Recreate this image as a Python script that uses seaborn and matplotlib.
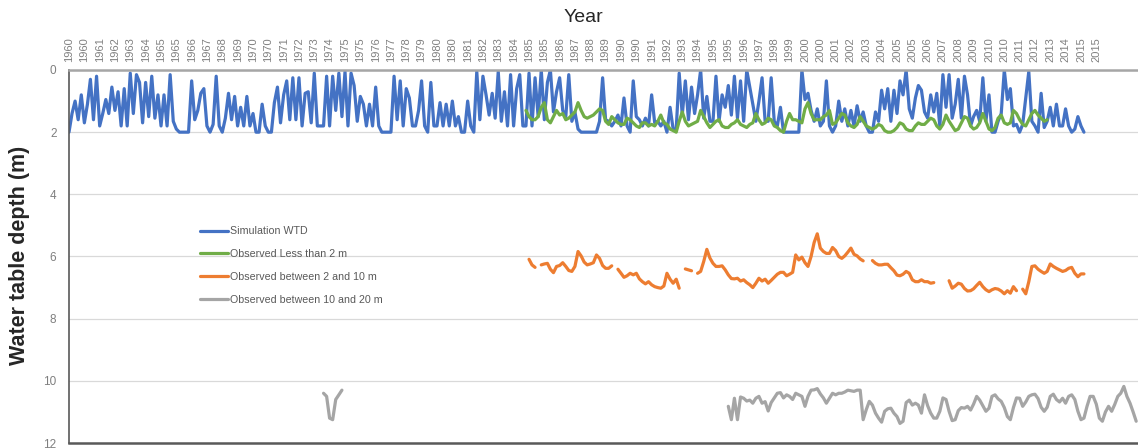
import matplotlib
matplotlib.use('Agg')
import matplotlib.pyplot as plt
from matplotlib.lines import Line2D
import numpy as np
import pandas as pd
import seaborn as sns

nan = np.nan

# simulated water table depth (m), every 2 months from Jan 1960
sim_wtd = [
    2.0, 1.4, 1.0, 1.6, 0.8, 1.7,   1.1, 0.3, 1.6, 0.2, 1.8, 1.4,
    0.95, 1.4, 0.55, 1.3, 0.7, 1.8,  0.6, 1.8, 0.1, 1.4, 0.15, 0.4,
    1.7, 0.4, 1.5, 0.2, 1.55, 0.8,  1.8, 0.8, 1.8, 0.15, 1.65, 1.9,
    2.0, 2.0, 2.0, 2.0, 0.35, 1.6,  1.3, 0.75, 0.6, 1.8, 2.0, 1.75,
    0.2, 1.8, 2.0, 1.55, 0.75, 1.6,  0.85, 1.8, 1.2, 1.8, 0.85, 1.8,
    1.4, 2.0, 2.0, 1.1, 1.8, 2.0,   2.0, 1.05, 0.55, 1.7, 0.8, 0.35,
    1.6, 0.25, 1.6, 0.25, 1.8, 0.75,  0.7, 1.7, 0.1, 1.8, 1.8, 1.8,
    0.2, 1.8, 0.2, 1.3, 0.1, 1.5,   0.05, 1.8, 0.1, 0.5, 1.65, 0.85,
    1.1, 1.8, 1.1, 1.8, 0.55, 1.8,  2.0, 2.0, 2.0, 2.0, 0.2, 1.6,
    0.35, 1.8, 0.6, 0.9, 1.8, 1.8,  1.3, 0.35, 1.8, 2.0, 0.4, 1.8,
    1.8, 1.05, 1.8, 1.1, 1.8, 1.0,  1.8, 1.5, 2.0, 2.0, 1.0, 1.8,
    2.0, 0.05, 1.6, 0.2, 0.8, 1.45,  0.75, 1.55, 0.05, 1.65, 0.7, 1.8,
    0.15, 1.8, 0.6, 0.15, 1.8, 1.8,  0.1, 1.8, 0.25, 1.5, 0.0, 1.6,
    0.4, 0.0, 1.35, 0.7, 0.25, 1.3,  1.5, 0.15, 1.65, 1.35, 1.9, 2.0,
    2.0, 2.0, 2.0, 2.0, 2.0, 1.65,  0.25, 1.6, 1.65, 1.8, 1.65, 1.45,
    1.8, 0.9, 1.8, 2.0, 0.35, 1.5,  1.6, 1.8, 1.55, 1.8, 0.8, 1.7,
    1.65, 1.8, 1.65, 2.0, 1.2, 1.9,  1.9, 0.1, 1.45, 0.35, 1.6, 0.55,
    1.4, 0.8, 0.0, 1.55, 0.85, 1.65,  1.65, 0.2, 1.65, 0.8, 1.2, 0.5,
    1.45, 0.2, 1.55, 0.35, 1.65, 0.0,  0.55, 1.1, 1.65, 1.0, 0.25, 1.65,
    1.65, 0.25, 1.65, 1.8, 1.2, 2.0,  2.0, 2.0, 2.0, 2.0, 2.0, 0.0,
    0.95, 0.75, 1.3, 1.65, 1.25, 1.8,  1.65, 0.35, 1.8, 2.0, 1.8, 1.0,
    1.65, 1.25, 1.8, 1.3, 1.8, 1.15,  1.65, 1.35, 1.8, 2.0, 2.0, 1.35,
    1.65, 0.65, 1.25, 0.6, 1.65, 0.65,  1.4, 0.35, 0.8, 0.0, 1.25, 1.55,
    0.9, 0.5, 0.65, 1.35, 1.55, 0.8,  1.35, 0.75, 1.8, 0.15, 1.2, 0.15,
    1.55, 1.1, 0.3, 1.55, 0.2, 0.8,  1.8, 1.5, 1.3, 1.65, 0.25, 1.65,
    0.8, 2.0, 2.0, 1.65, 1.4, 0.0,  0.95, 0.6, 1.8, 1.75, 2.0, 1.75,
    0.9, 0.05, 1.65, 1.8, 2.0, 0.75,  1.85, 1.65, 1.2, 1.8, 1.1, 1.8,
    1.8, 1.25, 1.8, 2.0, 1.9, 1.5,  1.8, 2.0,
]

# observed, less than 2 m, every 2 months from Nov 1984
obs_lt2 = [
    1.3, 1.5, 1.6, 1.6, 1.5, 1.2, 1.05, 1.6, 1.7, 1.5,
    1.3, 1.45, 1.4, 1.6, 1.55, 1.45, 1.35, 1.05, 1.3, 1.5,
    1.55, 1.5, 1.45, 1.35, 1.25, 1.3, 1.65, 1.75, 1.5, 1.6,
    1.7, 1.75, 1.75, 1.55, 1.6, 1.7, 1.8, 1.85, 1.7, 1.7,
    1.8, 1.75, 1.8, 1.65, 1.45, 1.7, 1.75, 1.9, 1.95, 2.0,
    1.65, 1.35, 1.65, 1.8, 1.75, 1.7, 1.65, 1.3, 1.5, 1.7,
    1.85, 1.75, 1.65, 1.6, 1.8, 1.85, 1.85, 1.75, 1.7, 1.6,
    1.75, 1.8, 1.85, 1.75, 1.7, 1.4, 1.6,
    1.75, 1.7, 1.55, 1.6, 1.8, 1.85, 1.95, 2.0, 1.65, 1.4,
    1.6, 1.6, 1.65, 1.7, 1.25, 1.05, 1.4, 1.6, 1.6, 1.6,
    1.5, 1.45, 1.3, 1.75, 1.7, 1.55, 1.4, 1.45, 1.7, 1.8,
    1.85, 1.75, 1.5, 1.65, 1.8, 1.85, 1.9, 1.85, 1.75, 1.8,
    1.95, 2.0, 2.0, 1.95, 1.85, 1.7, 1.75, 1.9, 1.95, 1.95,
    1.8, 1.7, 1.75, 1.75, 1.65, 1.55, 1.6, 1.8, 1.9, 1.75,
    1.45, 1.65, 1.8, 1.95, 1.9, 1.7, 1.5, 1.55, 1.8, 1.9,
    1.85, 1.7, 1.4, 1.65, 1.9, 1.95, 1.85, 1.55, 1.45, 1.7,
    1.75,
    1.7, 1.3, 1.4, 1.6, 1.75, 1.8, 1.6, 1.4, 1.3, 1.45, 1.55, 1.65, 1.6,
]

# observed, between 2 and 10 m, every 2 months from Jan 1985 (nan = no record)
obs_2_10 = [
    6.09, 6.27, 6.35, nan, 6.27, 6.24, 6.22, 6.41, 6.52, 6.32,
    6.29, 6.2, 6.32, 6.45, 6.48, 6.32, 5.84, 5.98, 6.18, 6.27,
    6.24, 6.2, 5.95, 6.06, 6.29, 6.38, 6.38, 6.3, nan, 6.41,
    6.54, 6.67, 6.62, 6.54, 6.59, 6.54, 6.72, 6.81, 6.88, 6.81,
    6.91, 6.97, 7.0, 7.02, 6.95, 6.54, 6.73, 6.86, 6.73, 7.02,
    nan, 6.4, 6.43, 6.46, nan, 6.54, 6.48, 6.16, 5.77, 6.05,
    6.22, 6.32, 6.32, 6.3, 6.43, 6.59, 6.71, 6.72, 6.7, 6.79,
    6.75, 6.84, 6.91, 7.0, 6.86, 6.7, 6.79, 6.73, 6.86, 6.77,
    6.67, 6.57, 6.51, 6.51, 6.62, 6.57, 6.51, 5.95, 6.11, 6.02,
    6.2, 6.32, 6.0, 5.55, 5.27,
    5.73, 5.84, 5.9, 5.9, 5.71, 5.81, 6.0, 6.06, 5.98, 5.86,
    5.73, 5.93, 5.98, 6.08, 6.14, nan, nan, 6.13, 6.22, 6.27,
    6.27, 6.25, 6.25, 6.36, 6.46, 6.6, 6.62, 6.57, 6.48, 6.54,
    6.75, 6.81, 6.81, 6.75, 6.81, 6.81, 6.86, 6.84, nan, nan,
    nan, nan, 6.78, 7.02, 6.95, 6.86, 6.89, 7.03, 7.11, 7.1,
    7.04, 6.93, 6.83, 6.97, 7.07, 7.13, 7.07, 7.03, 7.05, 7.11,
    7.2, 7.1, 7.18, 6.97, 7.1, nan, 7.05, 7.2, 6.81, 6.32,
    6.3, 6.41, 6.48, 6.54, 6.48, 6.24, 6.32, 6.38, 6.43, 6.48,
    6.45, 6.38, 6.35, 6.54, 6.65, 6.56, 6.56,
]

# observed, between 10 and 20 m: short record from Nov 1973, long one from Nov 1995
obs_10_20_early = [10.4, 10.5, 11.2, 11.25, 10.6, 10.45, 10.3]
obs_10_20_late = [
    10.82, 11.25, 10.56, 11.25, 10.52, 10.56, 10.65, 10.62, 10.72, 10.56,
    10.5, 10.72, 10.67, 10.97, 10.7, 10.55, 10.4, 10.38, 10.55, 10.45,
    10.5, 10.6, 10.4, 10.45, 10.5, 10.82, 10.5, 10.3, 10.29, 10.25,
    10.42, 10.55, 10.72, 10.56, 10.4, 10.45, 10.4, 10.4, 10.36, 10.3,
    10.32, 10.34, 10.3, 10.3, 11.25, 10.93, 10.66, 10.78, 11.04, 11.2,
    11.33, 10.98, 10.9, 10.88, 11.04, 11.15, 11.37, 11.3, 10.7, 10.62,
    10.78, 10.72, 10.78, 11.04, 10.45, 10.8, 11.04, 11.2, 11.2, 10.98,
    10.55, 10.6, 10.98, 11.28, 11.25, 10.96, 10.86, 10.88, 10.82, 10.94,
    10.75, 10.5, 10.62, 10.8, 10.98, 10.88, 10.5, 10.45, 10.58, 10.66,
    10.86, 11.15, 11.25, 10.86, 10.55, 10.56, 10.82, 10.68, 10.5, 10.45,
    10.43, 10.57, 10.85, 10.98, 10.85, 10.5, 10.43, 10.6, 10.68, 10.56,
    10.72, 10.5, 10.45, 10.6, 10.98, 11.25, 11.2, 10.82, 10.5, 10.5,
    10.75, 11.2, 11.3, 11.0, 10.82, 10.98, 10.76, 10.5, 10.4, 10.18,
    10.5, 10.72, 11.0, 11.3,
]

series_names = ['Simulation WTD', 'Observed Less than 2 m',
                'Observed between 2 and 10 m', 'Observed between 10 and 20 m']
colors = ['#4472C4', '#70AD47', '#ED7D31', '#A5A5A5']


def to_frame(values, start, name):
    d = pd.DataFrame({'date': pd.date_range(start, periods=len(values), freq='2MS'),
                      'depth': values})
    d['series'] = name
    # a new segment starts after every gap in the record
    d['segment'] = name + start + d['depth'].isna().cumsum().astype(str)
    return d.dropna()


df = pd.concat([
    to_frame(sim_wtd, '1960-01-01', series_names[0]),
    to_frame(obs_lt2, '1984-11-01', series_names[1]),
    to_frame(obs_2_10, '1985-01-01', series_names[2]),
    to_frame(obs_10_20_early, '1973-11-01', series_names[3]),
    to_frame(obs_10_20_late, '1995-11-01', series_names[3]),
], ignore_index=True)

sns.set_style('white')
plt.rcParams['font.family'] = ['Liberation Sans', 'DejaVu Sans']

fig = plt.figure(figsize=(11.38, 4.48), dpi=100)
ax = fig.add_axes([69 / 1138, 5 / 448, 1 - 69 / 1138, 373 / 448])

sns.lineplot(data=df, x='date', y='depth', hue='series', units='segment',
             estimator=None, sort=False, hue_order=series_names,
             palette=dict(zip(series_names, colors)), linewidth=2.3,
             legend=False, ax=ax)

ax.set_xlim(pd.Timestamp('1960-01-01'), pd.Timestamp('2018-02-06'))
ax.set_ylim(12, 0)
ax.set_yticks(range(0, 13, 2))
ax.yaxis.grid(True, color='#d9d9d9', linewidth=0.9)
ax.xaxis.grid(False)

tick_dates = pd.date_range('1960-01-01', periods=68, freq='10MS')
ax.xaxis.tick_top()
ax.set_xticks(tick_dates)
ax.set_xticklabels([d.strftime('%Y') for d in tick_dates], rotation=90)
ax.tick_params(axis='x', length=0, pad=6, labelsize=8, labelcolor='#808080')
ax.tick_params(axis='y', length=0, pad=9, labelsize=8.5, labelcolor='#7f7f7f')
ax.set_xlabel('')
ax.set_ylabel('')

ax.spines['top'].set_color('#a6a6a6')
ax.spines['top'].set_linewidth(1.8)
ax.spines['left'].set_color('#595959')
ax.spines['left'].set_linewidth(1.2)
ax.spines['bottom'].set_color('#595959')
ax.spines['bottom'].set_linewidth(1.8)
ax.spines['right'].set_visible(False)

fig.text(583 / 1138, 1 - 17 / 448, 'Year', ha='center', va='center', fontsize=14)
fig.text(20 / 1138, 1 - 255 / 448, 'Water table depth (m)', rotation=90,
         ha='center', va='center', fontsize=15.5, fontweight='bold')

handles = [Line2D([0], [0], color=c, linewidth=2.3) for c in colors]
ax.legend(handles, series_names, loc='upper left',
          bbox_to_anchor=((196 - 69) / 1069, 1 - (222 - 70) / 373),
          frameon=False, fontsize=7.7, handlelength=2.6, handletextpad=0.2,
          labelspacing=1.2, labelcolor='#595959', borderaxespad=0)

fig.savefig('out.png', dpi=100)
